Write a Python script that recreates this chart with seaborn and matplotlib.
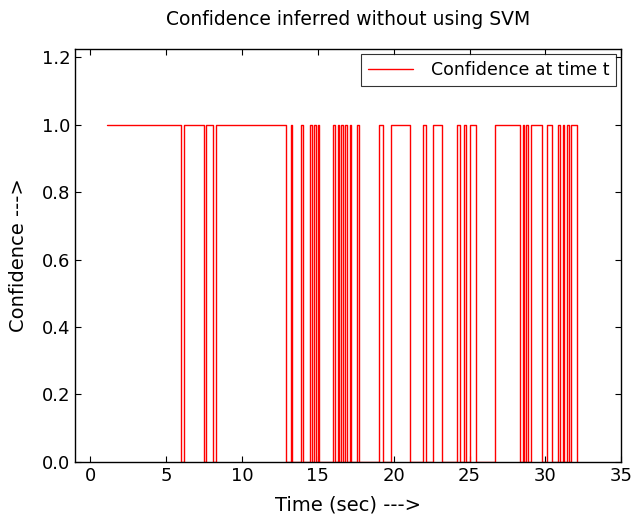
import matplotlib
matplotlib.use("Agg")
import matplotlib.pyplot as plt
import seaborn as sns
import pandas as pd

# switch times (sec) and confidence level starting at that time
switch_times = [1.1, 6.0, 6.2, 7.5, 7.65, 8.1, 8.3, 12.87, 13.2, 13.3,
                13.9, 14.05, 14.45, 14.6, 14.75, 14.9, 15.0, 15.1, 16.0, 16.1,
                16.3, 16.4, 16.55, 16.65, 16.8, 16.95, 17.1, 17.2, 17.55, 17.7,
                19.0, 19.3, 19.85, 21.1, 21.95, 22.1, 22.6, 23.2, 24.2, 24.35,
                24.6, 24.75, 25.0, 25.45, 26.7, 28.35, 28.5, 28.6, 28.75, 28.85,
                29.05, 29.8, 30.1, 30.45, 30.85, 30.95, 31.15, 31.25, 31.45, 31.55,
                31.7, 32.05]
levels = [1, 0, 1, 0, 1, 0, 1, 0, 1, 0,
          1, 0, 1, 0, 1, 0, 1, 0, 1, 0,
          1, 0, 1, 0, 1, 0, 1, 0, 1, 0,
          1, 0, 1, 0, 1, 0, 1, 0, 1, 0,
          1, 0, 1, 0, 1, 0, 1, 0, 1, 0,
          1, 0, 1, 0, 1, 0, 1, 0, 1, 0,
          1, 0]

df = pd.DataFrame({"Time": switch_times, "Confidence": levels})

sns.set_style("white")
plt.rcParams.update({
    "font.family": ["DejaVu Sans"],
    "text.color": "black", "axes.labelcolor": "black",
    "xtick.direction": "in", "ytick.direction": "in",
    "xtick.top": True, "ytick.right": True,
    "xtick.major.size": 4, "ytick.major.size": 4,
    "xtick.bottom": True, "ytick.left": True,
    "axes.edgecolor": "black", "axes.linewidth": 1.0,
})

fig = plt.figure(figsize=(6.32, 5.16), dpi=100)
ax = fig.add_axes([0.119, 0.105, 0.864, 0.800])

sns.lineplot(data=df, x="Time", y="Confidence", ax=ax, color="red",
             linewidth=1.0, drawstyle="steps-post", estimator=None, sort=False,
             label="Confidence at time t")

ax.set_xlim(-1, 35)
ax.set_ylim(0, 1.225)
ax.set_xticks([0, 5, 10, 15, 20, 25, 30, 35])
ax.set_yticks([0.0, 0.2, 0.4, 0.6, 0.8, 1.0, 1.2])
ax.set_yticklabels(["0.0", "0.2", "0.4", "0.6", "0.8", "1.0", "1.2"])
ax.tick_params(labelsize=13, colors="black", width=0.8)
ax.set_xlabel("Time (sec) --->", fontsize=14, labelpad=8)
ax.set_ylabel("Confidence --->", fontsize=14, labelpad=10)
ax.set_title("Confidence inferred without using SVM", fontsize=13.5, pad=17)
leg = ax.legend(loc="upper right", fontsize=12.5, frameon=True, fancybox=False,
                edgecolor="black", borderaxespad=0.3, handlelength=2.6,
                handletextpad=1.0)
leg.get_frame().set_linewidth(0.8)

fig.savefig("out.png", dpi=100)
